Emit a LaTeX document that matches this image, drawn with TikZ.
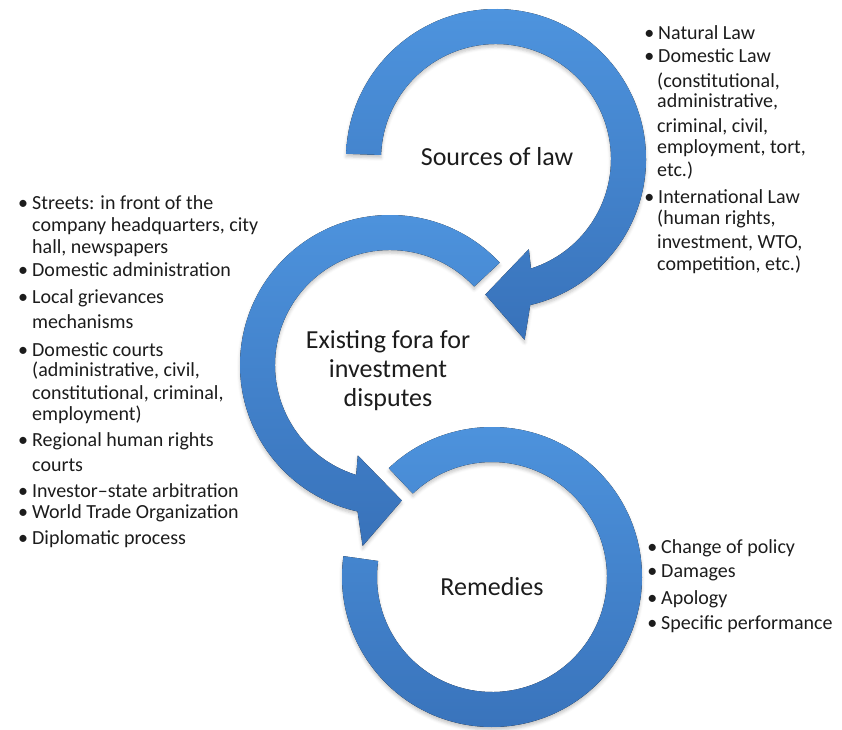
\documentclass[tikz,border=0pt]{standalone}
\usepackage{fontspec}
\setmainfont{Carlito}
\usetikzlibrary{calc,shadows.blur}

\definecolor{ringtop}{RGB}{78,148,222}
\definecolor{ringbot}{RGB}{56,114,186}
\definecolor{txt}{RGB}{28,28,28}

\tikzset{
  ring/.style={top color=ringtop, bottom color=ringbot, draw=none,
    blur shadow={shadow xshift=0pt, shadow yshift=-3pt, shadow blur radius=3pt, shadow opacity=22}},
  title/.style={font=\fontsize{26}{29}\selectfont, text=txt, align=center, inner sep=0pt},
  item/.style={font=\fontsize{20}{22}\selectfont, text=txt, anchor=base west, inner sep=0pt},
}

% ring arrow: #1 centre, #2 start angle, #3 angle where the band's outer edge meets the head,
% #4 angle of the head's outer corner, #5 angle of the tip, #6 angle of the head's inner corner,
% #7 angle where the band's inner edge meets the head
\newcommand{\arrowring}[7]{%
  \fill[ring] ($(#1)+(#2:150pt)$) arc[start angle=#2, end angle=#3, radius=150pt]
    -- ($(#1)+(#4:183pt)$) -- ($(#1)+(#5:136pt)$) -- ($(#1)+(#6:96pt)$)
    -- ($(#1)+(#7:115pt)$) arc[start angle=#7, end angle=#2, radius=115pt] -- cycle;}
\newcommand{\bul}{\llap{\textbullet\hspace{4pt}}}

\begin{document}
\begin{tikzpicture}[x=1pt,y=1pt]
\useasboundingbox (0,0) rectangle (842,729);

\coordinate (A) at (496,570);
\coordinate (B) at (390,364);
\coordinate (C) at (492,152);

% the three circular arrows
\arrowring{A}{178}{-76.8}{-81}{-94.5}{-70}{-72.3}
\arrowring{B}{43}{257.5}{261.4}{275}{250.4}{252.9}
\fill[ring] ($(C)+(133.5:150pt)$) arc[start angle=133.5, end angle=-188, radius=150pt]
  -- ($(C)+(-188:115pt)$) arc[start angle=-188, end angle=133.5, radius=115pt] -- cycle;

% titles
\node[title] (tA) at (497,572) {Sources of law};
\node[title] (tB) at (388,358) {Existing fora for\\investment\\disputes};
\node[title] (tC) at (492,142) {Remedies};

% sources of law
\node[item] (s1)  at (658,689) {\bul Natural Law};
\node[item] (s2)  at (658,666) {\bul Domestic Law};
\node[item] (s3)  at (657,641) {(constitutional,};
\node[item] (s4)  at (657,621) {administrative,};
\node[item] (s5)  at (657,596) {criminal, civil,};
\node[item] (s6)  at (657,575) {employment, tort,};
\node[item] (s7)  at (657,552) {etc.)};
\node[item] (s8)  at (658,525) {\bul International Law};
\node[item] (s9)  at (657,504) {(human rights,};
\node[item] (s10) at (657,480) {investment, WTO,};
\node[item] (s11) at (657,458) {competition, etc.)};

% existing fora
\node[item] (f1)  at (32,519) {\bul Streets: in front of the};
\node[item] (f2)  at (32,497) {company headquarters, city};
\node[item] (f3)  at (32,475) {hall, newspapers};
\node[item] (f4)  at (32,452) {\bul Domestic administration};
\node[item] (f5)  at (32,425) {\bul Local grievances};
\node[item] (f6)  at (32,401) {mechanisms};
\node[item] (f7)  at (32,373) {\bul Domestic courts};
\node[item] (f8)  at (32,353) {(administrative, civil,};
\node[item] (f9)  at (32,330) {constitutional, criminal,};
\node[item] (f10) at (32,309) {employment)};
\node[item] (f11) at (32,283) {\bul Regional human rights};
\node[item] (f12) at (32,258) {courts};
\node[item] (f13) at (32,232) {\bul Investor--state arbitration};
\node[item] (f14) at (32,211) {\bul World Trade Organization};
\node[item] (f15) at (32,185) {\bul Diplomatic process};

% remedies
\node[item] (r1) at (661,176) {\bul Change of policy};
\node[item] (r2) at (661,152) {\bul Damages};
\node[item] (r3) at (661,125) {\bul Apology};
\node[item] (r4) at (661,100) {\bul Specific performance};
\end{tikzpicture}
\end{document}
